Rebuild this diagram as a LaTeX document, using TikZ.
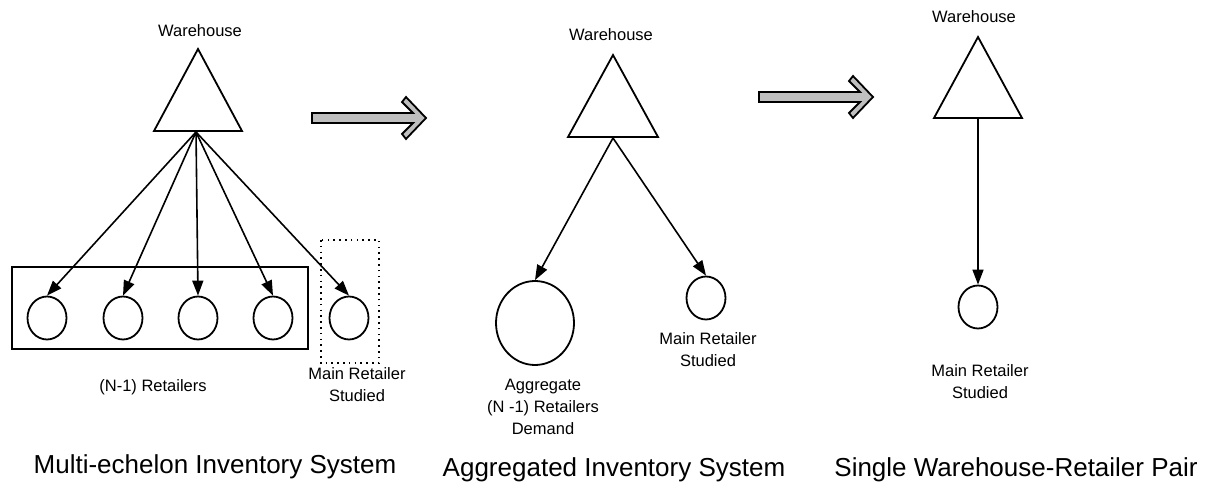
\documentclass[tikz,border=0pt]{standalone}
\usepackage{fontspec}
\setmainfont{Liberation Sans}
\usetikzlibrary{arrows.meta,shapes.geometric}
\begin{document}
\begin{tikzpicture}[x=1pt,y=-1pt,
  line width=1.8pt,
  lbl/.style={font=\fontsize{16.5}{22}\selectfont, inner sep=0pt, align=center},
  title/.style={font=\fontsize{26}{30}\selectfont, inner sep=0pt},
  ret/.style={draw, ellipse, minimum width=39pt, minimum height=43pt, inner sep=0pt, line width=1.8pt},
  bigret/.style={draw, ellipse, minimum width=78pt, minimum height=84pt, inner sep=0pt, line width=1.8pt},
  flow/.style={-{Triangle[length=15pt,width=11pt]}, line width=1.6pt},
  wh/.style={draw, line width=1.8pt, line join=miter},
  fat/.style={draw=black, fill=gray!50, line width=1.8pt, line join=miter},
  sparse/.style={draw, line width=1.6pt, dash pattern=on 1.6pt off 4.2pt}
]
\useasboundingbox (0,0) rectangle (1205,484);

% ---------- Diagram 1 ----------
\node[lbl] (wl1) at (200,31) {Warehouse};
\draw[wh] (198,49) -- (242,131) -- (154,131) -- cycle;
\coordinate (w1) at (196,132);
\draw (12,267) rectangle (308,349);
\draw[sparse] (321,240) rectangle (379,363);
\node[ret] (r1) at (47,318) {};
\node[ret] (r2) at (123,318) {};
\node[ret] (r3) at (198,318) {};
\node[ret] (r4) at (273,318) {};
\node[ret] (r5) at (349,318) {};
\foreach \r in {r1,r2,r3,r4,r5} \draw[flow] (w1) -- (\r.north);
\node[lbl] (nr) at (153,387) {(N-1) Retailers};
\node[lbl] (mr1) at (357,385) {Main Retailer\\Studied};
\node[title] (t1) at (215,467) {Multi-echelon Inventory System};

% ---------- Arrow 1 ----------
\draw[fat] (312,113) -- (413,113) -- (402,102) -- (406,97) -- (426,118)
  -- (406,139) -- (402,134) -- (413,123) -- (312,123) -- cycle;

% ---------- Diagram 2 ----------
\node[lbl] (wl2) at (611,35) {Warehouse};
\draw[wh] (613,55) -- (658,137) -- (568,137) -- cycle;
\coordinate (w2) at (613,138);
\node[bigret] (agg) at (535,323) {};
\node[ret] (m2) at (706,298) {};
\draw[flow] (w2) -- (agg.north);
\draw[flow] (w2) -- (m2.north);
\node[lbl] (ml2) at (708,350) {Main Retailer\\Studied};
\node[lbl] (al) at (543,407) {Aggregate\\(N -1) Retailers\\Demand};
\node[title] (t2) at (614,470) {Aggregated Inventory System};

% ---------- Arrow 2 ----------
\draw[fat] (759,92) -- (860,92) -- (849,81) -- (853,76) -- (873,97)
  -- (853,118) -- (849,113) -- (860,102) -- (759,102) -- cycle;

% ---------- Diagram 3 ----------
\node[lbl] (wl3) at (974,17) {Warehouse};
\draw[wh] (978,37) -- (1022,118) -- (934,118) -- cycle;
\coordinate (w3) at (978,118);
\node[ret] (m3) at (978,307) {};
\draw[flow] (w3) -- (m3.north);
\node[lbl] (ml3) at (980,382) {Main Retailer\\Studied};
\node[title] (t3) at (1016,470) {Single Warehouse-Retailer Pair};
\end{tikzpicture}
\end{document}
